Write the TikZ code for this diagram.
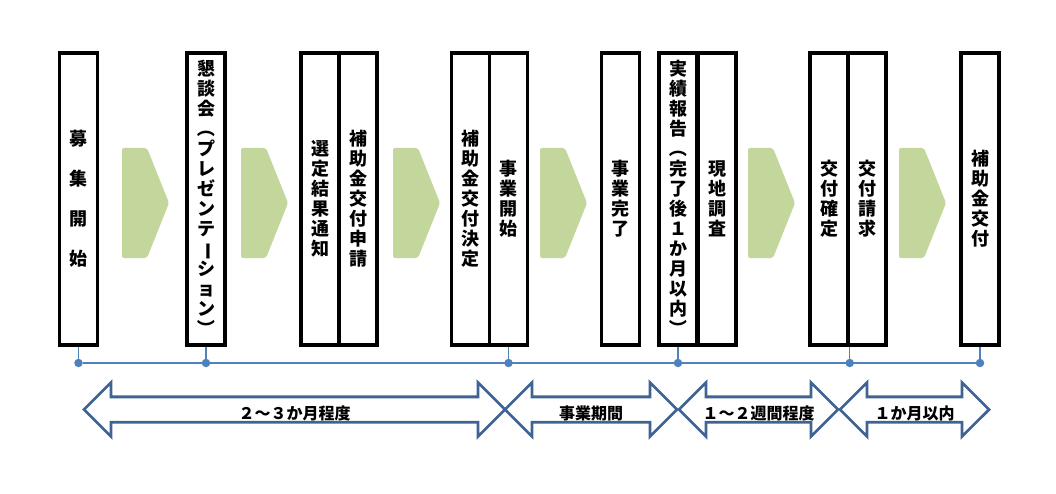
\documentclass[tikz,border=0pt]{standalone}
\usepackage{fontspec}
\usepackage{xcolor}
\usetikzlibrary{shapes.arrows}
\newfontfamily\jpfont{Noto Sans CJK JP}
\definecolor{chevgreen}{HTML}{C3D69B}
\definecolor{lineblue}{HTML}{4F81BD}
\definecolor{arrowblue}{HTML}{3F6493}

\makeatletter
\newcommand\tate[2][20pt]{\vbox{\baselineskip=#1\relax\lineskiplimit=-100pt\@tfor\tatech:=#2\do{\hbox to 1.1em{\hss\tatech\hss}}}}
\makeatother
\newcommand\tatemark[1]{\rotatebox[origin=c]{-90}{#1}}

\tikzset{
	stage/.style={draw, line width=3.5pt, minimum width=38pt, minimum height=292pt, inner sep=0pt, font=\jpfont\bfseries\fontsize{18}{20}\selectfont},
	dot/.style={circle, fill=lineblue, inner sep=0pt, minimum size=8.5pt},
	tline/.style={lineblue, line width=1.3pt},
	span/.style={double arrow, draw=arrowblue, fill=white, line width=2.8pt, minimum width=54pt, double arrow head extend=13.5pt, inner sep=0pt, text height=20pt, text depth=1pt, font=\jpfont\bfseries\fontsize{16}{16}\selectfont}
}

\begin{document}
\begin{tikzpicture}[x=1pt,y=-1pt]
			\useasboundingbox (0,0) rectangle (1056,494);
			\foreach \cx in {122,241,393,540,748,899}
				\fill[chevgreen,rounded corners=2pt] (\cx,148)--++(25,0)--++(22,55)--++(-22,55)--++(-25,0)--cycle;
			\node[stage] (kobo) at (78.5,199) {\tate[40pt]{募集開始}};
			\node[stage] (kondan) at (206,199) {\tate{懇談会{\tatemark{（}}プレゼンテ{\tatemark{ー}}ション{\tatemark{）}}}};
			\node[stage] (sentei) at (320,199) {\tate{選定結果通知}};
			\node[stage] (shinsei) at (358,199) {\tate{補助金交付申請}};
			\node[stage] (kettei) at (470.5,199) {\tate{補助金交付決定}};
			\node[stage] (kaishi) at (508.5,199) {\tate{事業開始}};
			\node[stage] (kanryo) at (620.5,199) {\tate{事業完了}};
			\node[stage] (jisseki) at (678,199) {\tate{実績報告{\tatemark{（}}完了後１か月以内{\tatemark{）}}}};
			\node[stage] (genchi) at (717,199) {\tate{現地調査}};
			\node[stage] (kakutei) at (829,199) {\tate{交付確定}};
			\node[stage] (seikyu) at (867,199) {\tate{交付請求}};
			\node[stage] (kofu) at (980,199) {\tate{補助金交付}};
			\node[dot] (t1) at (kobo.south |- 0,363) {};
			\node[dot] (t2) at (kondan.south |- 0,363) {};
			\node[dot] (t3) at (kaishi.south |- 0,363) {};
			\node[dot] (t4) at (jisseki.south |- 0,363) {};
			\node[dot] (t5) at (kakutei.south east |- 0,363) {};
			\node[dot] (t6) at (kofu.south |- 0,363) {};
			\draw[tline] (t1)--(t6);
			\foreach \s/\t in {kobo.south/t1,kondan.south/t2,kaishi.south/t3,jisseki.south/t4,kakutei.south east/t5,kofu.south/t6}
				\draw[tline] (\s)--(\t);
			\node[span,minimum height=421pt] (sanka) at (294.5,409.5) {２～３か月程度};
			\node[span,minimum height=172pt] (jigyo) at (591,409.5) {事業期間};
			\node[span,minimum height=159pt] (shukan) at (758.5,409.5) {１～２週間程度};
			\node[span,minimum height=149pt] (ikkagetsu) at (914.5,409.5) {１か月以内};
		\end{tikzpicture}
\end{document}
